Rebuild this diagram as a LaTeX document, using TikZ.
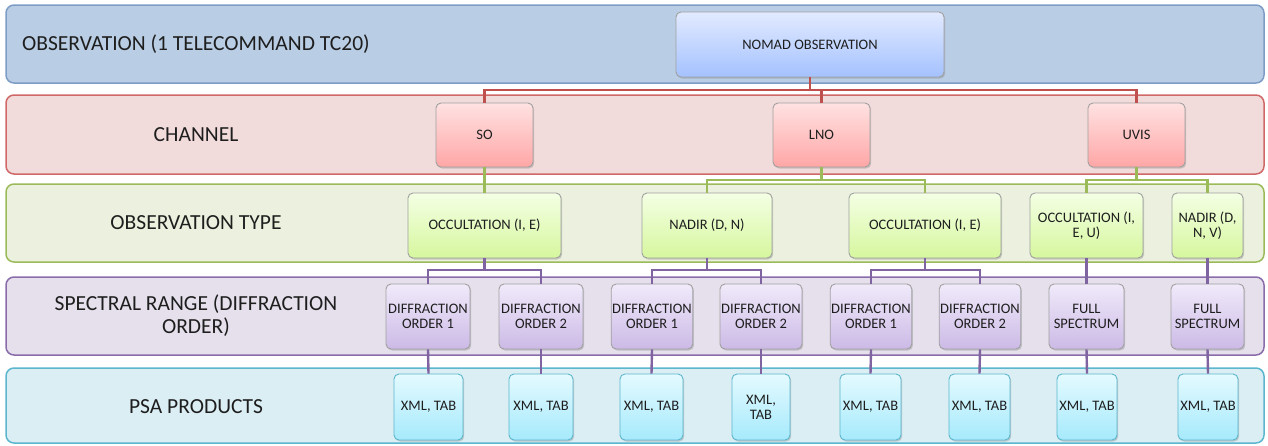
\documentclass[tikz,border=0pt]{standalone}
\usepackage{fontspec}
\setmainfont{Carlito}
\usetikzlibrary{shadows}
\definecolor{b1fill}{HTML}{B9CDE5}\definecolor{b1line}{HTML}{7E9DC6}
\definecolor{b2fill}{HTML}{F2DCDB}\definecolor{b2line}{HTML}{D06868}
\definecolor{b3fill}{HTML}{EBF1DE}\definecolor{b3line}{HTML}{9BBB59}
\definecolor{b4fill}{HTML}{E5E0EC}\definecolor{b4line}{HTML}{8A6CAA}
\definecolor{b5fill}{HTML}{DAEEF3}\definecolor{b5line}{HTML}{5BB6CE}
\definecolor{boxgray}{HTML}{A0A0A0}
\definecolor{txt}{HTML}{1E1E1E}
\definecolor{redc}{HTML}{C0504D}
\definecolor{greenc}{HTML}{9BBB59}
\definecolor{purplec}{HTML}{8064A2}
\tikzset{
  band/.style={rounded corners=8pt, line width=1.5pt},
  bandlabel/.style={font=\fontsize{21.5}{23}\selectfont, text=txt, align=center, inner sep=0pt},
  box/.style={draw=boxgray, rounded corners=5pt, line width=0.9pt,
    font=\fontsize{14.5}{15}\selectfont, text=txt, align=center, inner sep=1pt,
    drop shadow={opacity=0.35, shadow xshift=1.2pt, shadow yshift=-1.5pt}},
  nomadbox/.style={box, top color={rgb,255:red,226;green,234;blue,255}, bottom color={rgb,255:red,164;green,194;blue,255}},
  redbox/.style={box, top color={rgb,255:red,255;green,226;blue,226}, bottom color={rgb,255:red,255;green,166;blue,166}},
  greenbox/.style={box, top color={rgb,255:red,244;green,255;blue,228}, bottom color={rgb,255:red,214;green,247;blue,158}},
  purplebox/.style={box, top color={rgb,255:red,240;green,234;blue,250}, bottom color={rgb,255:red,204;green,186;blue,230}},
  cyanbox/.style={box, draw=b5line, top color={rgb,255:red,228;green,250;blue,255}, bottom color={rgb,255:red,166;green,234;blue,252}},
  rl/.style={draw=redc, line width=2.4pt},
  gl/.style={draw=greenc, line width=2.4pt},
  pl/.style={draw=purplec, line width=2.4pt}
}
\begin{document}
\begin{tikzpicture}[x=1pt,y=-1pt]
\useasboundingbox (0,0) rectangle (1268,445);
% bands
\draw[band, fill=b1fill, draw=b1line] (6,5) rectangle (1264,83);
\draw[band, fill=b2fill, draw=b2line] (6,95) rectangle (1264,174);
\draw[band, fill=b3fill, draw=b3line] (6,184) rectangle (1264,262);
\draw[band, fill=b4fill, draw=b4line] (6,277) rectangle (1264,355);
\draw[band, fill=b5fill, draw=b5line] (6,368) rectangle (1264,443);
% band labels
\node[bandlabel, anchor=west] (lab1) at (22,44) {OBSERVATION (1 TELECOMMAND TC20)};
\node[bandlabel] (lab2) at (196,135) {CHANNEL};
\node[bandlabel] (lab3) at (196,223) {OBSERVATION TYPE};
\node[bandlabel] (lab4) at (196,316) {SPECTRAL RANGE (DIFFRACTION\\ORDER)};
\node[bandlabel] (lab5) at (196,407) {PSA PRODUCTS};
% bus coordinates
\coordinate (busR) at (0,90);
\coordinate (busG) at (0,180);
\coordinate (busP) at (0,270);
% nodes
\node[nomadbox, minimum width=268, minimum height=65] (nomad) at (810,44.5) {NOMAD OBSERVATION};
\node[redbox, minimum width=97, minimum height=64] (so) at (484.5,135) {SO};
\node[redbox, minimum width=97, minimum height=64] (lno) at (821.5,135) {LNO};
\node[redbox, minimum width=97, minimum height=64] (uvis) at (1136.5,135) {UVIS};
\node[greenbox, minimum width=153, minimum height=65] (occ1) at (484.5,225.5) {OCCULTATION (I, E)};
\node[greenbox, minimum width=130, minimum height=65] (nad1) at (707,225.5) {NADIR (D, N)};
\node[greenbox, minimum width=152, minimum height=65] (occ2) at (925,225.5) {OCCULTATION (I, E)};
\node[greenbox, minimum width=113, minimum height=65] (occ3) at (1086.5,225.5) {OCCULTATION (I,\\E, U)};
\node[greenbox, minimum width=71, minimum height=65] (nad2) at (1207.5,225.5) {NADIR (D,\\N, V)};
\node[purplebox, minimum width=84, minimum height=65] (do1) at (428,316.5) {DIFFRACTION\\ORDER 1};
\node[purplebox, minimum width=84, minimum height=65] (do2) at (541,316.5) {DIFFRACTION\\ORDER 2};
\node[purplebox, minimum width=80, minimum height=65] (do3) at (652,316.5) {DIFFRACTION\\ORDER 1};
\node[purplebox, minimum width=82, minimum height=65] (do4) at (761,316.5) {DIFFRACTION\\ORDER 2};
\node[purplebox, minimum width=80, minimum height=65] (do5) at (871,316.5) {DIFFRACTION\\ORDER 1};
\node[purplebox, minimum width=78, minimum height=65] (do6) at (980,316.5) {DIFFRACTION\\ORDER 2};
\node[purplebox, minimum width=75, minimum height=65] (fs1) at (1086.5,316.5) {FULL\\SPECTRUM};
\node[purplebox, minimum width=73, minimum height=65] (fs2) at (1207.5,316.5) {FULL\\SPECTRUM};
\node[cyanbox, minimum width=69, minimum height=66] (x1) at (428.5,407) {XML, TAB};
\node[cyanbox, minimum width=64, minimum height=66] (x2) at (541,407) {XML, TAB};
\node[cyanbox, minimum width=63, minimum height=66] (x3) at (651.5,407) {XML, TAB};
\node[cyanbox, minimum width=58, minimum height=66] (x4) at (761,407) {XML,\\TAB};
\node[cyanbox, minimum width=61, minimum height=66] (x5) at (870.5,407) {XML, TAB};
\node[cyanbox, minimum width=61, minimum height=66] (x6) at (979.5,407) {XML, TAB};
\node[cyanbox, minimum width=60, minimum height=66] (x7) at (1087,407) {XML, TAB};
\node[cyanbox, minimum width=60, minimum height=66] (x8) at (1208,407) {XML, TAB};
% connectors
\draw[rl] (nomad.south) -- (nomad.south|-busR) -| (so.north);
\draw[rl] (nomad.south) -- (nomad.south|-busR) -| (lno.north);
\draw[rl] (nomad.south) -- (nomad.south|-busR) -| (uvis.north);
\draw[gl] (so.south) -- (occ1.north);
\draw[gl] (lno.south) -- (lno.south|-busG) -| (nad1.north);
\draw[gl] (lno.south) -- (lno.south|-busG) -| (occ2.north);
\draw[gl] (uvis.south) -- (uvis.south|-busG) -| (occ3.north);
\draw[gl] (uvis.south) -- (uvis.south|-busG) -| (nad2.north);
\draw[pl] (occ1.south) -- (occ1.south|-busP) -| (do1.north);
\draw[pl] (occ1.south) -- (occ1.south|-busP) -| (do2.north);
\draw[pl] (nad1.south) -- (nad1.south|-busP) -| (do3.north);
\draw[pl] (nad1.south) -- (nad1.south|-busP) -| (do4.north);
\draw[pl] (occ2.south) -- (occ2.south|-busP) -| (do5.north);
\draw[pl] (occ2.south) -- (occ2.south|-busP) -| (do6.north);
\draw[pl] (occ3.south) -- (fs1.north);
\draw[pl] (nad2.south) -- (fs2.north);
\draw[pl] (do1.south) -- (x1.north);
\draw[pl] (do2.south) -- (x2.north);
\draw[pl] (do3.south) -- (x3.north);
\draw[pl] (do4.south) -- (x4.north);
\draw[pl] (do5.south) -- (x5.north);
\draw[pl] (do6.south) -- (x6.north);
\draw[pl] (fs1.south) -- (x7.north);
\draw[pl] (fs2.south) -- (x8.north);
\end{tikzpicture}
\end{document}
